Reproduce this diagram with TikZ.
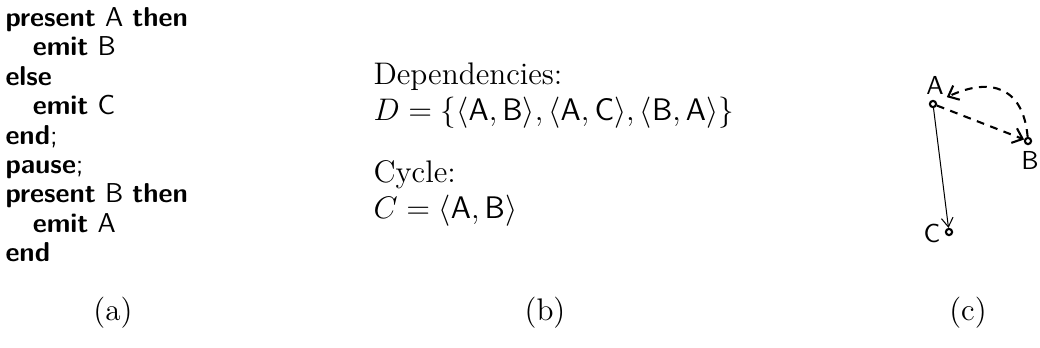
\documentclass[tikz,border=0pt]{standalone}
\usetikzlibrary{arrows.meta}
\begin{document}
\begin{tikzpicture}[x=0.3846pt,y=-0.3846pt,
  code/.style={anchor=north west,inner sep=0pt,align=left,font=\fontsize{10.5}{11.3}\sffamily},
  txt/.style={anchor=base west,inner sep=0pt,font=\fontsize{12}{14}\selectfont},
  captext/.style={anchor=base,inner sep=0pt,font=\fontsize{12}{14}\selectfont},
  vtx/.style={circle,draw,line width=0.8pt,inner sep=0pt,minimum size=2.4pt},
  vlab/.style={inner sep=1pt,font=\sffamily},
  dep/.style={-{Straight Barb[length=3.5pt,width=6pt]},thick,dash pattern=on 3pt off 2.5pt},
  plainarrow/.style={-{Straight Barb[length=3.5pt,width=4.5pt]}}]
\useasboundingbox (0,0) rectangle (1040,347);
% (a) code
\node[code] (code) at (5,7) {%
\textbf{present} A \textbf{then}\\
\hspace*{1em}\textbf{emit} B\\
\textbf{else}\\
\hspace*{1em}\textbf{emit} C\\
\textbf{end};\\
\textbf{pause};\\
\textbf{present} B \textbf{then}\\
\hspace*{1em}\textbf{emit} A\\
\textbf{end}};
% (b) text
\node[txt] (dh) at (373,84) {Dependencies:};
\node[txt] (dm) at (373,120) {$D=\{\langle\mathsf{A},\mathsf{B}\rangle,\langle\mathsf{A},\mathsf{C}\rangle,\langle\mathsf{B},\mathsf{A}\rangle\}$};
\node[txt] (ch) at (373,182) {Cycle:};
\node[txt] (cm) at (373,218) {$C=\langle\mathsf{A},\mathsf{B}\rangle$};
% captions
\node[captext] (la) at (113,320) {(a)};
\node[captext] (lb) at (545,320) {(b)};
\node[captext] (lc) at (968,320) {(c)};
% (c) graph
\node[vtx] (A) at (933,104) {};
\node[vtx] (B) at (1028,141) {};
\node[vtx] (C) at (949,232) {};
\node[vlab] (Al) at (935,85) {A};
\node[vlab] (Bl) at (1030,160) {B};
\node[vlab] (Cl) at (932,233) {C};
\draw[dep] (A) -- (B);
\draw[dep] (B) to[out=95,in=25,looseness=1.4] (Al.south east);
\draw[plainarrow] (A) -- (C);
\end{tikzpicture}
\end{document}
